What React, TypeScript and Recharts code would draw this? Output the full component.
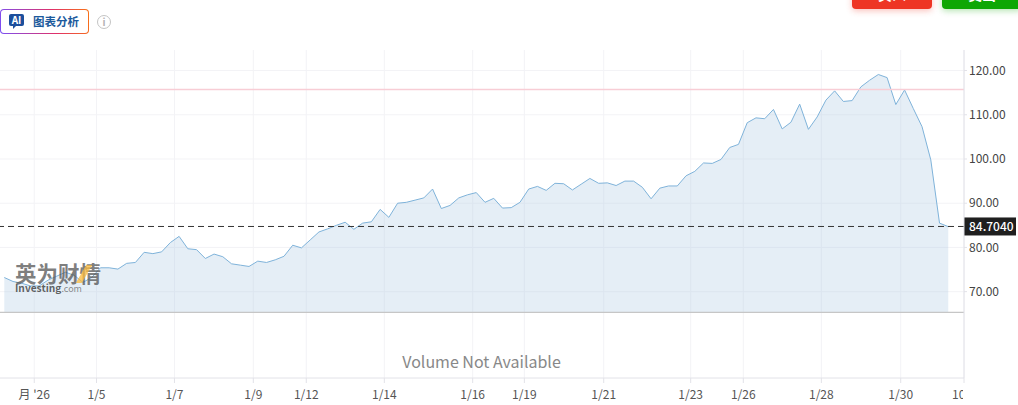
import { Area, CartesianGrid, ComposedChart, ReferenceLine, XAxis, YAxis } from 'recharts';

const prices = [
  73.2, 72.3, 71.9, 71.3, 71.3, 72.6, 73.5, 74.4, 73.7, 72.1,
  73.2, 75.4, 75.4, 75.1, 76.4, 76.6, 78.9, 78.6, 79.0, 81.1,
  82.5, 79.7, 79.5, 77.5, 78.5, 77.9, 76.3, 76.0, 75.7, 76.9,
  76.6, 77.2, 78.0, 80.5, 79.9, 81.7, 83.5, 84.2, 85.0, 85.7,
  84.1, 85.5, 85.8, 88.6, 86.8, 90.0, 90.2, 90.7, 91.2, 93.2,
  88.8, 89.5, 91.2, 91.9, 92.4, 90.2, 91.1, 88.9, 89.0, 90.2,
  93.2, 93.8, 92.9, 94.5, 94.4, 93.0, 94.3, 95.6, 94.5, 94.6,
  94.0, 95.0, 95.0, 93.6, 91.0, 93.4, 93.9, 93.9, 96.2, 97.2,
  99.1, 99.0, 99.9, 102.6, 103.3, 108.2, 109.3, 109.1, 111.2, 106.8,
  108.3, 112.4, 106.7, 109.5, 113.3, 115.4, 113.0, 113.2, 116.3, 117.8,
  119.1, 118.4, 112.3, 115.6, 111.4, 107.3, 99.8, 85.5, 84.7,
];

const priceTicks = [70, 80, 90, 100, 110, 120];
const dateTicks = [3.43, 10.55, 19.47, 28.49, 34.55, 43.48, 53.59, 59.5, 68.58, 78.53, 84.55, 93.48, 102.56, 109.8];
const dateLabels = ["月 '26", '1/5', '1/7', '1/9', '1/12', '1/14', '1/16', '1/19', '1/21', '1/23', '1/26', '1/28', '1/30', '10'];

const lastPrice = 84.74;
const lastPriceLabel = '84.7040';
const highLine = 115.7;
const paneFloor = 65.3;

const data = prices.map((price, i) => ({ i, price }));

const FONT = '"Noto Sans CJK SC", "Noto Sans", sans-serif';

function DateTick({ x, y, index }: any) {
  const label = dateLabels[index];
  if (index === dateLabels.length - 1) {
    // last label is cut off by the right edge of the plot
    return (
      <g>
        <defs>
          <clipPath id="lastTick">
            <rect x={x - 20} y={y - 5} width={19} height={30} />
          </clipPath>
        </defs>
        <text x={x - 12} y={y + 14} fontSize={12} fill="#555" fontFamily={FONT} clipPath="url(#lastTick)">
          {label}
        </text>
      </g>
    );
  }
  return (
    <text x={x} y={y + 14} textAnchor="middle" fontSize={12} fill="#555" fontFamily={FONT}>
      {label}
    </text>
  );
}

function PriceTag({ viewBox }: any) {
  const right = viewBox.x + viewBox.width;
  return (
    <g>
      <rect x={right} y={viewBox.y - 9} width={52} height={18} fill="#1f1f1f" />
      <text x={right + 5} y={viewBox.y + 4.5} fontSize={12} fontWeight={500} fill="#fff" fontFamily={FONT}>
        {lastPriceLabel}
      </text>
    </g>
  );
}

export default function App() {
  return (
    <div style={{ position: 'absolute', left: 0, top: 0, width: 1018, height: 405, overflow: 'hidden', background: '#fff', fontFamily: FONT }}>
      <ComposedChart
        width={1018}
        height={405}
        data={data}
        margin={{ top: 50, right: 0, bottom: 0, left: 0 }}
      >
        <CartesianGrid stroke="#f3f3f6" syncWithTicks />
        <XAxis
          dataKey="i"
          type="number"
          domain={[-0.49, 109.8]}
          ticks={dateTicks}
          interval={0}
          allowDataOverflow
          height={27}
          stroke="#e2e2e8"
          tickSize={5}
          tick={<DateTick />}
        />
        <YAxis
          orientation="right"
          type="number"
          domain={[50.48, 124.64]}
          ticks={priceTicks}
          interval={0}
          allowDataOverflow
          width={54}
          stroke="#e2e2e8"
          tickSize={3}
          tickMargin={2}
          tick={{ fontSize: 12, fill: '#444', fontFamily: FONT, textAnchor: 'start' }}
          tickFormatter={(v: number) => v.toFixed(2)}
        />
        <ReferenceLine y={highLine} stroke="#f8cdd5" strokeWidth={1.5} />
        <Area
          dataKey="price"
          type="linear"
          baseValue={paneFloor}
          stroke="#7fb3da"
          strokeWidth={1}
          fill="#a9c6e0"
          fillOpacity={0.3}
          dot={false}
          activeDot={false}
          isAnimationActive={false}
        />
        <ReferenceLine y={paneFloor} stroke="#c6c6c6" strokeWidth={1.2} />
        <ReferenceLine
          y={lastPrice}
          stroke="#333"
          strokeWidth={1}
          strokeDasharray="6 4"
          label={<PriceTag />}
        />
      </ComposedChart>

      {/* page furniture around the chart */}
      <div
        style={{
          position: 'absolute', left: 0, top: 9, width: 87, height: 23, borderRadius: 4,
          border: '1.5px solid transparent',
          background: 'linear-gradient(#fff,#fff) padding-box, linear-gradient(80deg,#7a4ff5,#e0306a 60%,#f97316) border-box',
        }}
      >
        <div style={{ position: 'absolute', left: 8, top: 4, width: 15, height: 12, background: '#1c4f9c', borderRadius: 2, color: '#fff', fontSize: 10, fontWeight: 700, lineHeight: '12px', textAlign: 'center' }}>
          AI
        </div>
        <div style={{ position: 'absolute', left: 12, top: 16, width: 0, height: 0, borderLeft: '3px solid #1c4f9c', borderBottom: '3px solid transparent' }} />
        <div style={{ position: 'absolute', left: 32, top: 2.5, fontSize: 11.5, fontWeight: 700, color: '#1c5a9c', lineHeight: '17px', whiteSpace: 'nowrap' }}>
          图表分析
        </div>
      </div>
      <div style={{ position: 'absolute', left: 97, top: 15, width: 12, height: 12, borderRadius: 8, border: '1.5px solid #c4c4c4', color: '#b4b4b4', fontSize: 10, fontWeight: 700, lineHeight: '12px', textAlign: 'center' }}>
        i
      </div>

      <div style={{ position: 'absolute', left: 852, top: -12, width: 80, height: 21, background: '#ee3524', borderRadius: 4, boxShadow: '0 2px 6px rgba(238,53,36,.3)', color: '#fff', fontSize: 14, fontWeight: 700, textAlign: 'center', lineHeight: '13px' }}>
        买入
      </div>
      <div style={{ position: 'absolute', left: 942, top: -12, width: 80, height: 21, background: '#0ea704', borderRadius: 4, boxShadow: '0 2px 6px rgba(14,167,4,.3)', color: '#fff', fontSize: 14, fontWeight: 700, textAlign: 'center', lineHeight: '13px' }}>
        卖出
      </div>

      <div style={{ position: 'absolute', left: 15, top: 259, fontSize: 21.5, fontWeight: 700, color: 'rgba(85,85,85,.75)', lineHeight: '28px', whiteSpace: 'nowrap' }}>
        英为财情
      </div>
      <div style={{ position: 'absolute', left: 81, top: 265, width: 6, height: 18, background: 'rgba(250,185,60,.75)', transform: 'skewX(-30deg)' }} />
      <div style={{ position: 'absolute', left: 15, top: 280, fontSize: 10.2, fontWeight: 700, color: 'rgba(70,70,70,.85)', lineHeight: '15px', whiteSpace: 'nowrap' }}>
        Investing<span style={{ fontWeight: 400, fontSize: 9, color: 'rgba(110,110,110,.8)' }}>.com</span>
      </div>

      <div style={{ position: 'absolute', left: 0, width: 963, top: 350, textAlign: 'center', fontSize: 16, color: '#888', lineHeight: '22px' }}>
        Volume Not Available
      </div>
    </div>
  );
}
